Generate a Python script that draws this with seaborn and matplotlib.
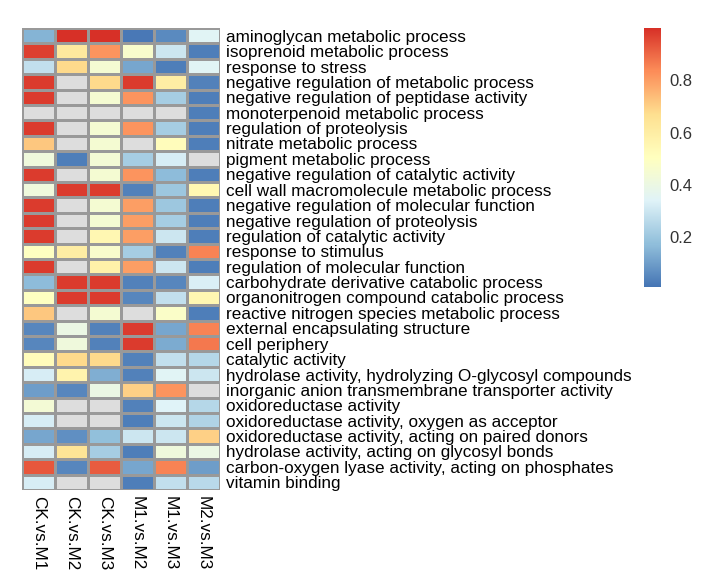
import numpy as np
import pandas as pd
import matplotlib
matplotlib.use("Agg")
import matplotlib.pyplot as plt
from matplotlib.colors import LinearSegmentedColormap
import seaborn as sns

comparisons = ["CK.vs.M1", "CK.vs.M2", "CK.vs.M3", "M1.vs.M2", "M1.vs.M3", "M2.vs.M3"]

terms = [
    "aminoglycan metabolic process",
    "isoprenoid metabolic process",
    "response to stress",
    "negative regulation of metabolic process",
    "negative regulation of peptidase activity",
    "monoterpenoid metabolic process",
    "regulation of proteolysis",
    "nitrate metabolic process",
    "pigment metabolic process",
    "negative regulation of catalytic activity",
    "cell wall macromolecule metabolic process",
    "negative regulation of molecular function",
    "negative regulation of proteolysis",
    "regulation of catalytic activity",
    "response to stimulus",
    "regulation of molecular function",
    "carbohydrate derivative catabolic process",
    "organonitrogen compound catabolic process",
    "reactive nitrogen species metabolic process",
    "external encapsulating structure",
    "cell periphery",
    "catalytic activity",
    "hydrolase activity, hydrolyzing O-glycosyl compounds",
    "inorganic anion transmembrane transporter activity",
    "oxidoreductase activity",
    "oxidoreductase activity, oxygen as acceptor",
    "oxidoreductase activity, acting on paired donors",
    "hydrolase activity, acting on glycosyl bonds",
    "carbon-oxygen lyase activity, acting on phosphates",
    "vitamin binding",
]

nan = np.nan
# one list per comparison (column); nan = grey cell
ck_m1 = [0.15, 0.97, 0.28, 0.98, 0.98, nan, 0.98, 0.72, 0.42, 0.98,
         0.42, 0.98, 0.98, 0.98, 0.50, 0.98, 0.17, 0.50, 0.72, 0.05,
         0.05, 0.52, 0.32, 0.10, 0.44, 0.32, 0.12, 0.32, 0.93, 0.32]
ck_m2 = [1.00, 0.62, 0.68, nan, nan, nan, nan, nan, 0.03, nan,
         0.98, nan, nan, nan, 0.60, nan, 0.98, 0.98, nan, 0.40,
         0.42, 0.68, 0.57, 0.05, nan, nan, 0.07, 0.65, 0.05, nan]
ck_m3 = [1.00, 0.82, 0.45, 0.68, 0.45, nan, 0.45, 0.45, 0.44, 0.45,
         0.98, 0.45, 0.45, 0.55, 0.47, 0.58, 0.98, 0.98, 0.45, 0.04,
         0.04, 0.68, 0.14, 0.40, nan, nan, 0.18, 0.22, 0.92, nan]
m1_m2 = [0.02, 0.47, 0.12, 0.98, 0.82, nan, 0.82, nan, 0.22, 0.82,
         0.04, 0.80, 0.80, 0.80, 0.22, 0.80, 0.04, 0.05, nan, 0.98,
         0.98, 0.04, 0.04, 0.70, 0.04, 0.03, 0.30, 0.03, 0.12, 0.03]
m1_m3 = [0.06, 0.30, 0.03, 0.60, 0.22, nan, 0.22, 0.52, 0.32, 0.17,
         0.20, 0.20, 0.22, 0.30, 0.04, 0.30, 0.05, 0.28, 0.48, 0.12,
         0.13, 0.28, 0.35, 0.82, 0.34, 0.30, 0.30, 0.42, 0.85, 0.28]
m2_m3 = [0.35, 0.03, 0.35, 0.04, 0.03, 0.03, 0.03, 0.03, nan, 0.03,
         0.55, 0.03, 0.03, 0.03, 0.85, 0.03, 0.33, 0.55, 0.03, 0.85,
         0.87, 0.25, 0.30, nan, 0.25, 0.24, 0.70, 0.40, 0.10, 0.26]

df = pd.DataFrame({
    "CK.vs.M1": ck_m1, "CK.vs.M2": ck_m2, "CK.vs.M3": ck_m3,
    "M1.vs.M2": m1_m2, "M1.vs.M3": m1_m3, "M2.vs.M3": m2_m3,
}, index=terms)[comparisons]

# pheatmap-like palette
cmap = LinearSegmentedColormap.from_list(
    "rdylbu7", ["#4575B4", "#91BFDB", "#E0F3F8", "#FFFFBF", "#FEE090", "#FC8D59", "#D73027"])
cmap.set_bad("#DDDDDD")

plt.rcParams["font.family"] = ["Liberation Sans", "DejaVu Sans"]

fig = plt.figure(figsize=(7.2, 5.86), dpi=100)
ax = fig.add_axes([22 / 720, 1 - 490 / 586, 198 / 720, 462 / 586])
cax = fig.add_axes([644 / 720, 1 - 287 / 586, 17 / 720, 259 / 586])

sns.heatmap(df, ax=ax, cmap=cmap, vmin=0.01, vmax=1.0,
            linewidths=1, linecolor="#999999", cbar_ax=cax,
            cbar_kws={"ticks": [0.2, 0.4, 0.6, 0.8]})
ax.set_facecolor("#DDDDDD")

ax.yaxis.tick_right()
ax.set_yticks(np.arange(len(terms)) + 0.5)
ax.set_yticklabels(terms, rotation=0, fontsize=12.3, color="black")
ax.set_xticklabels(comparisons, rotation=270, fontsize=12.3, color="black")
ax.tick_params(length=0, pad=4)
ax.set_xlabel("")
ax.set_ylabel("")

cax.tick_params(length=0, labelsize=12, colors="#333333", pad=6)
ax.collections[0].colorbar.outline.set_visible(False)

fig.savefig("out.png", dpi=100)
